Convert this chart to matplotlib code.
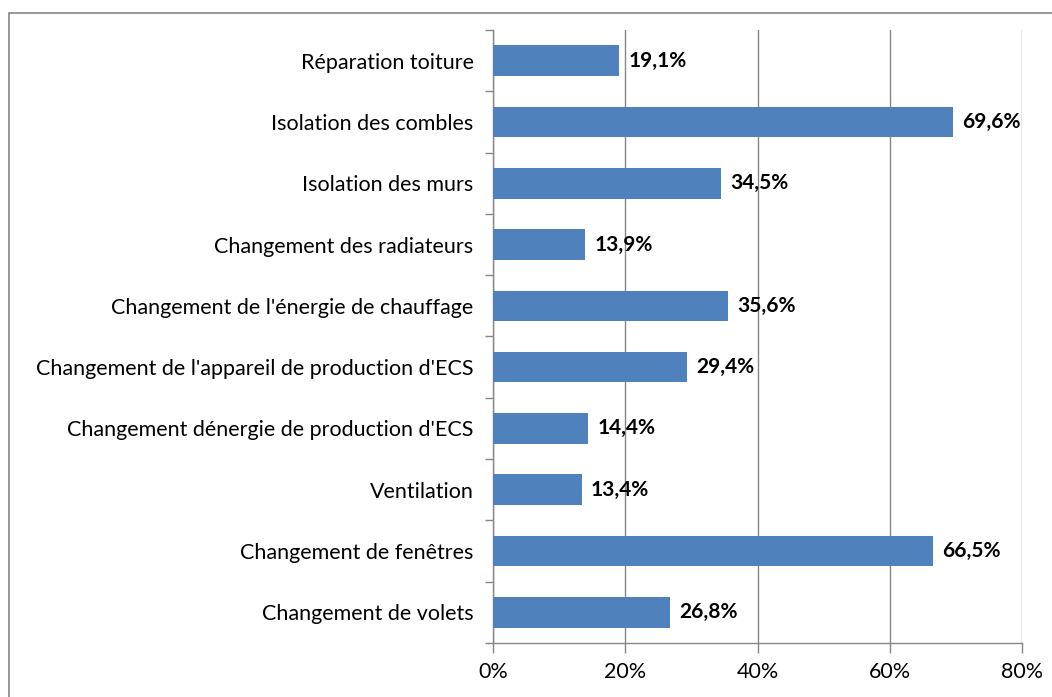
import matplotlib.pyplot as plt
import numpy as np
from matplotlib.patches import Rectangle
from matplotlib.ticker import FixedLocator

# data, top to bottom as shown
categories = ["Réparation toiture", "Isolation des combles", "Isolation des murs",
              "Changement des radiateurs", "Changement de l'énergie de chauffage",
              "Changement de l'appareil de production d'ECS",
              "Changement dénergie de production d'ECS", "Ventilation",
              "Changement de fenêtres", "Changement de volets"]
values = [19.1, 69.6, 34.5, 13.9, 35.6, 29.4, 14.4, 13.4, 66.5, 26.8]
xticks = [0, 20, 40, 60, 80]

plt.rcParams['font.family'] = ['Lato', 'DejaVu Sans']

fig = plt.figure(figsize=(10.52, 6.97), dpi=100)
# outer chart border (right/bottom cut off in the original)
fig.patches.append(Rectangle((9 / 1052, -0.1), 1.2, (697 - 13) / 697 + 0.1,
                             transform=fig.transFigure, fill=False,
                             edgecolor="#868686", linewidth=1.2))

ax = fig.add_axes([493 / 1052, 1 - 643 / 697, (1022 - 493) / 1052, (643 - 30) / 697])
n = len(categories)
ypos = np.arange(n)[::-1]
ax.barh(ypos, values, height=0.5, color="#4F81BD", zorder=3)

for y, v in zip(ypos, values):
    ax.text(v + 1.4, y, ("%.1f%%" % v).replace(".", ","), va="center", ha="left",
            fontsize=15, fontweight="bold", zorder=4)

ax.set_xlim(0, 80)
ax.set_ylim(-0.5, n - 0.5)
ax.set_xticks(xticks)
ax.set_xticklabels(["%d%%" % t for t in xticks], fontsize=15.5)
ax.set_yticks(ypos)
ax.set_yticklabels(categories, fontsize=15.5)
ax.yaxis.set_minor_locator(FixedLocator(np.arange(-0.5, n, 1.0)))
ax.tick_params(axis="y", which="major", length=0, pad=14)
ax.tick_params(axis="y", which="minor", length=6, color="#868686", width=1)
ax.tick_params(axis="x", length=7, color="#868686", width=1, pad=7)
ax.grid(axis="x", color="#868686", linewidth=1, zorder=0)
for s in ["top", "right"]:
    ax.spines[s].set_visible(False)
for s in ["left", "bottom"]:
    ax.spines[s].set_color("#868686")
    ax.spines[s].set_linewidth(1)

fig.savefig("out.png", dpi=100)
